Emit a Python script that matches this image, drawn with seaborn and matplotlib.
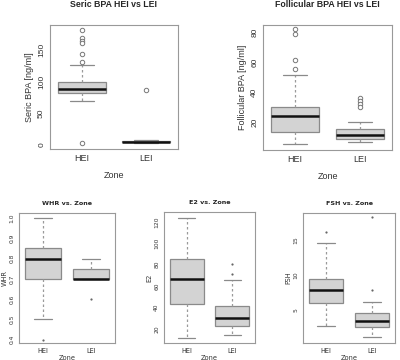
import numpy as np
import pandas as pd
import matplotlib
matplotlib.use("Agg")
import matplotlib.pyplot as plt
import seaborn as sns

# five-number summaries: whisker low, Q1, median, Q3, whisker high
zones = ["HEI", "LEI"]

seric_hei = [69, 81.5, 89, 99.5, 126]
seric_lei = [2, 3.5, 4.5, 5.5, 7.5]
seric_out_hei = [182.5, 169, 164.5, 161, 144, 131.5, 2.5]
seric_out_lei = [86.5]

foll_hei = [5.3, 13.5, 24, 30, 51.8]
foll_lei = [7, 8.9, 11.5, 15.3, 20.2]
foll_out_hei = [82, 79.3, 61.5, 55.7]
foll_out_lei = [36.4, 34.2, 32, 30.4]

whr_hei = [0.5, 0.7, 0.8, 0.85, 1.0]
whr_lei = [0.7, 0.7, 0.7, 0.75, 0.8]
whr_out_hei = [0.4]
whr_out_lei = [0.6]

e2_hei = [11.2, 43.4, 66.5, 85.3, 124]
e2_lei = [13.7, 22.5, 30.3, 41.2, 66]
e2_out_hei = []
e2_out_lei = [71, 80.5]

fsh_hei = [2.7, 6.0, 7.9, 9.45, 14.5]
fsh_lei = [1.1, 2.6, 3.4, 4.5, 6.2]
fsh_out_hei = [16.1]
fsh_out_lei = [7.8, 18.2]


def frames(hei, lei, out_hei, out_lei):
    box = pd.DataFrame({"Zone": ["HEI"] * len(hei) + ["LEI"] * len(lei),
                        "val": hei + lei})
    out = pd.DataFrame({"Zone": ["HEI"] * len(out_hei) + ["LEI"] * len(out_lei),
                        "val": out_hei + out_lei})
    return box, out


def panel(ax, hei, lei, out_hei, out_lei, title, ylabel, yticks, ylim,
          fs, tfs, family, small_out, pad, ylpad, xlpad):
    box, out = frames(hei, lei, out_hei, out_lei)
    sns.boxplot(data=box, x="Zone", y="val", order=zones, ax=ax,
                whis=(0, 100), showfliers=False, width=0.75,
                color="#d3d3d3", linecolor="#8a8a8a", linewidth=0.9,
                medianprops={"color": "#111111", "linewidth": 1.8},
                whiskerprops={"linestyle": (0, (2, 2)), "color": "#9a9a9a"},
                capprops={"color": "#8a8a8a"})
    if len(out):
        if small_out:
            sns.stripplot(data=out, x="Zone", y="val", order=zones, ax=ax,
                          jitter=False, color="#666666", size=1.6, linewidth=0)
        else:
            sns.stripplot(data=out, x="Zone", y="val", order=zones, ax=ax,
                          jitter=False, color="white", edgecolor="#777777",
                          linewidth=0.7, size=3.2)
    ax.set_xlim(-0.5, 1.5)
    ax.set_ylim(*ylim)
    ax.set_yticks(yticks)
    ax.set_yticklabels([str(t) for t in yticks], rotation=90, va="center",
                       fontsize=fs - 0.5, family=family, color="#333333")
    ax.set_xticks([0, 1])
    ax.set_xticklabels(zones, fontsize=fs, family=family, color="#333333")
    ax.set_xlabel("Zone", fontsize=fs, family=family, color="#333333", labelpad=xlpad)
    ax.set_ylabel(ylabel, fontsize=fs, family=family, color="#333333", labelpad=ylpad)
    ax.set_title(title, fontsize=tfs, fontweight="bold", family=family, pad=pad)
    ax.tick_params(length=2, width=0.6, colors="#777777", pad=1.5)
    ax.tick_params(labelcolor="#333333")
    for s in ax.spines.values():
        s.set_color("#999999")
        s.set_linewidth(0.8)


sns.set_style("white")
fig = plt.figure(figsize=(4, 3.6), dpi=100)

W, H = 400, 360


def axes_px(x0, y0, x1, y1):
    return fig.add_axes([x0 / W, 1 - y1 / H, (x1 - x0) / W, (y1 - y0) / H])


ax1 = axes_px(50, 25, 178, 149)
panel(ax1, seric_hei, seric_lei, seric_out_hei, seric_out_lei,
      "Seric BPA HEI vs LEI", "Seric BPA [ng/ml]", [0, 50, 100, 150], (-7, 190),
      6.5, 6.3, "Liberation Sans", False, 13, 3, 6)

ax2 = axes_px(263, 25, 392, 150)
panel(ax2, foll_hei, foll_lei, foll_out_hei, foll_out_lei,
      "Follicular BPA HEI vs LEI", "Follicular BPA [ng/ml]", [20, 40, 60, 80], (1.5, 85),
      6.5, 6.3, "Liberation Sans", False, 13, 3, 6)

ax3 = axes_px(19, 213, 115, 343)
panel(ax3, whr_hei, whr_lei, whr_out_hei, whr_out_lei,
      "WHR vs. Zone", "WHR", [0.4, 0.5, 0.6, 0.7, 0.8, 0.9, 1.0], (0.384, 1.024),
      4.8, 4.6, "DejaVu Sans", True, 6, 1, 1)

ax4 = axes_px(164, 212, 255, 343)
panel(ax4, e2_hei, e2_lei, e2_out_hei, e2_out_lei,
      "E2 vs. Zone", "E2", [20, 40, 60, 80, 100, 120], (6.6, 129.4),
      4.8, 4.6, "DejaVu Sans", True, 6, 1, 1)

ax5 = axes_px(303, 213, 395, 343)
panel(ax5, fsh_hei, fsh_lei, fsh_out_hei, fsh_out_lei,
      "FSH vs. Zone", "FSH", [5, 10, 15], (0.3, 18.8),
      4.8, 4.6, "DejaVu Sans", True, 6, 1, 1)

fig.savefig("out.png", dpi=100)
